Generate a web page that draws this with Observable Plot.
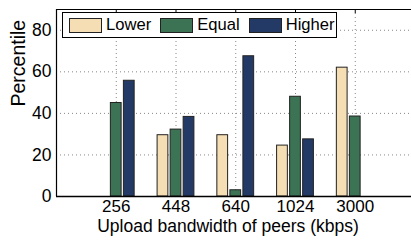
<!DOCTYPE html>
<html><head><meta charset="utf-8">
<script src="https://cdn.jsdelivr.net/npm/d3@7"></script>
<script src="https://cdn.jsdelivr.net/npm/@observablehq/plot@0.6"></script>
<style>
html,body{margin:0;padding:0;background:#fff;overflow:hidden;}
#wrap{position:relative;width:411px;height:241px;overflow:hidden;font-family:"Liberation Sans",Arial,sans-serif;}
#wrap svg{overflow:hidden;}
#legend{position:absolute;left:62px;top:12px;width:275px;height:26px;box-sizing:border-box;border:1px solid #000;background:#fff;display:flex;align-items:center;padding-left:6px;font-size:16.6px;color:#000;}
.sw{width:33px;height:15px;box-sizing:border-box;border:1px solid #222;margin-right:4px;flex:none;}
.lab{margin-right:9px;white-space:nowrap;}
</style></head><body><div id="wrap"></div>
<script>
const categories = ["256", "448", "640", "1024", "3000"];
const series = ["Lower", "Equal", "Higher"];
const lower  = [0, 29.5, 29.5, 24.5, 62];
const equal  = [45, 32.2, 3, 48, 38.5];
const higher = [55.7, 38.3, 67.5, 27.5, 0];
const yTicks = [0, 20, 40, 60, 80];
const colors = ["#F5DEB3", "#3B7354", "#233A66"];
const xLabel = "Upload bandwidth of peers (kbps)";
const yLabel = "Percentile";

const values = [lower, equal, higher];
const font = "Liberation Sans, Arial, sans-serif";
// group positions on the x axis: 1..n, bar offsets/widths in axis units
const positions = categories.map((c, i) => i + 1);
const barW = 0.18;
const offsets = [-0.218, 0, 0.218];

const rows = [];
series.forEach((s, si) => categories.forEach((c, ci) => {
  if (values[si][ci] > 0) rows.push({series: s, pos: positions[ci] + offsets[si], value: values[si][ci]});
}));

const chart = Plot.plot({
  width: 411, height: 241,
  marginLeft: 56, marginRight: 0, marginTop: 9, marginBottom: 45,
  style: {fontFamily: font, fontSize: "17px", color: "#000", background: "#fff", overflow: "hidden"},
  x: {type: "linear", domain: [0, 6], range: [56, 414.5]},
  y: {domain: [0, 90]},
  color: {domain: series, range: colors},
  marks: [
    Plot.ruleY(yTicks.filter(t => t > 0), {stroke: "#888", strokeDasharray: "1,3"}),
    Plot.ruleX(positions, {stroke: "#888", strokeDasharray: "1,3"}),
    Plot.rectY(rows, {x1: d => d.pos - barW / 2, x2: d => d.pos + barW / 2, y1: 0, y2: "value", fill: "series", stroke: "#222", strokeWidth: 1}),
    Plot.axisY(yTicks, {tickSize: 0, tickPadding: 5, fontSize: 17.5, label: null}),
    Plot.axisX(positions, {tickSize: 0, tickPadding: 3, fontSize: 17, label: null, tickFormat: d => categories[d - 1]}),
    Plot.ruleX(positions, {y1: 90, y2: 88, stroke: "#000"}),
    Plot.text([yLabel], {text: d => d, frameAnchor: "left", rotate: -90, dx: -38, dy: 3.5, fontSize: 19.5}),
    Plot.text([xLabel], {text: d => d, frameAnchor: "bottom", dx: -6, dy: 35, fontSize: 17.5}),
    Plot.ruleY([90], {stroke: "#000", strokeWidth: 1.2}),
    Plot.ruleX([0], {stroke: "#000", strokeWidth: 1.2}),
    Plot.ruleY([0], {stroke: "#000", strokeWidth: 1.5})
  ]
});

const wrap = document.getElementById("wrap");
wrap.appendChild(chart);
const leg = document.createElement("div");
leg.id = "legend";
series.forEach((s, i) => {
  const sw = document.createElement("div");
  sw.className = "sw"; sw.style.background = colors[i];
  const lab = document.createElement("span");
  lab.className = "lab"; lab.textContent = s;
  leg.appendChild(sw); leg.appendChild(lab);
});
wrap.appendChild(leg);
</script></body></html>
